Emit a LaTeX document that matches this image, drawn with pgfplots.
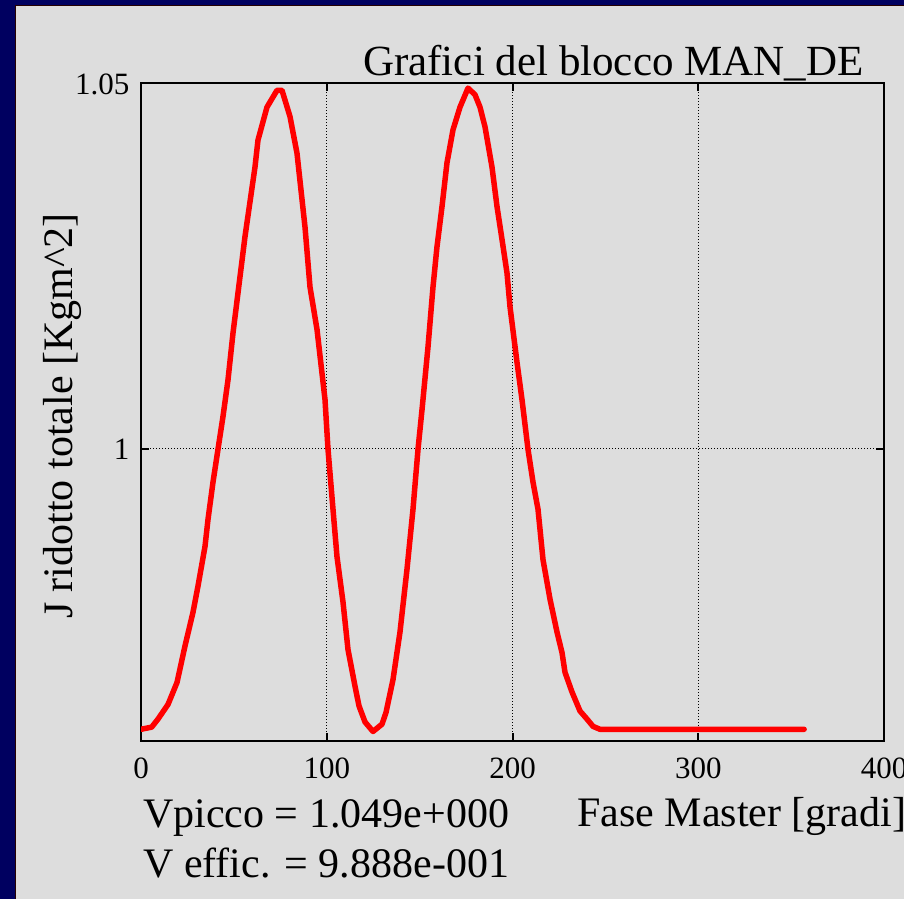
\documentclass[border=0pt]{standalone}
\usepackage{fontspec}
\setmainfont{Liberation Serif}
\usepackage{pgfplots}
\pgfplotsset{compat=1.18}
\definecolor{bg}{RGB}{221,221,221}
\definecolor{navy}{RGB}{0,0,96}
\begin{document}
\begin{tikzpicture}[x=1pt,y=1pt]
\useasboundingbox (0,0) rectangle (904,899);
\fill[bg] (0,0) rectangle (904,899);
\fill[navy] (0,0) rectangle (15,899);
\fill[navy] (0,894) rectangle (904,899);
\draw[line width=1pt, black!85!red] (15.5,0) -- (15.5,893.5) -- (904,893.5);
\begin{axis}[
  at={(141pt,158pt)}, anchor=south west,
  scale only axis, width=743pt, height=658pt,
  xmin=0, xmax=400, ymin=0.96, ymax=1.05,
  xtick={0,100,200,300,400}, ytick={1,1.05},
  grid=major,
  grid style={black, line width=1pt, dash pattern=on 1pt off 2pt},
  axis line style={line width=2pt},
  tick style={black, line width=2pt},
  tick align=inside, major tick length=8pt,
  ticklabel style={font=\fontsize{31}{31}\selectfont},
  /pgf/number format/assume math mode=true,
  yticklabel style={/pgf/number format/fixed, /pgf/number format/precision=2, xshift=-8pt, yshift=-1pt},
  xticklabel style={yshift=-13pt},
]
\addplot[red, line width=5.5pt, line join=round, line cap=round] coordinates {
(0,0.9616) (5.76,0.9619) (9.15,0.9630) (14.54,0.9650) (19.38,0.9680)
(23.69,0.9730) (27.99,0.9776) (30.69,0.9812) (34.45,0.9866) (36.07,0.9903)
(38.76,0.9954) (41.45,0.9999) (44.15,1.0044) (46.84,1.0094) (49.53,1.0158)
(55.99,1.0290) (61.37,1.0385) (62.99,1.0422) (67.83,1.0467) (73.22,1.0490)
(75.91,1.0490) (80.22,1.0454) (83.98,1.0404) (88.29,1.0303) (90.98,1.0221)
(94.75,1.0163) (99.06,1.0067) (100.67,0.9999) (103.36,0.9917) (105.52,0.9852)
(108.75,0.9790) (111.44,0.9725) (115.21,0.9675) (117.36,0.9648) (120.59,0.9626)
(124.9,0.9613) (129.74,0.9623) (131.9,0.9639) (135.67,0.9684) (139.43,0.9749)
(143.2,0.9835) (146.43,0.9917) (149.13,0.9999) (151.28,1.0053) (154.51,1.0139)
(157.2,1.0221) (159.35,1.0276) (162.05,1.0331) (164.74,1.0391) (167.97,1.0436)
(171.74,1.0467) (176.04,1.0493) (179.81,1.0484) (182.5,1.0467) (185.2,1.0440)
(188.96,1.0385) (191.66,1.0331) (194.35,1.0286) (197.04,1.0240) (198.65,1.0194)
(202.42,1.0118) (205.11,1.0067) (208.34,0.9999) (211.04,0.9954) (213.73,0.9917)
(216.42,0.9848) (220.19,0.9794) (223.96,0.9749) (226.65,0.9721) (228.26,0.9694)
(232.03,0.9667) (236.34,0.9641) (240.11,0.9630) (243.34,0.9620) (247.1,0.9616)
(300,0.9616) (357,0.9616)
};
\end{axis}
\node[anchor=base west, inner sep=0pt, font=\fontsize{43}{43}\selectfont] at (363,823) {Grafici del blocco MAN\_DE};
\node[anchor=base, rotate=90, inner sep=0pt, font=\fontsize{42}{42}\selectfont] at (72,483) {J ridotto totale [Kgm\textasciicircum 2]};
\node[anchor=base west, inner sep=0pt, font=\fontsize{42}{42}\selectfont] at (577,73) {Fase Master [gradi]};
\node[anchor=base west, inner sep=0pt, font=\fontsize{42}{42}\selectfont] at (143,71) {Vpicco = 1.049e+000};
\node[anchor=base west, inner sep=0pt, font=\fontsize{42}{42}\selectfont] at (143,22) {V effic. = 9.888e-001};
\end{tikzpicture}
\end{document}
